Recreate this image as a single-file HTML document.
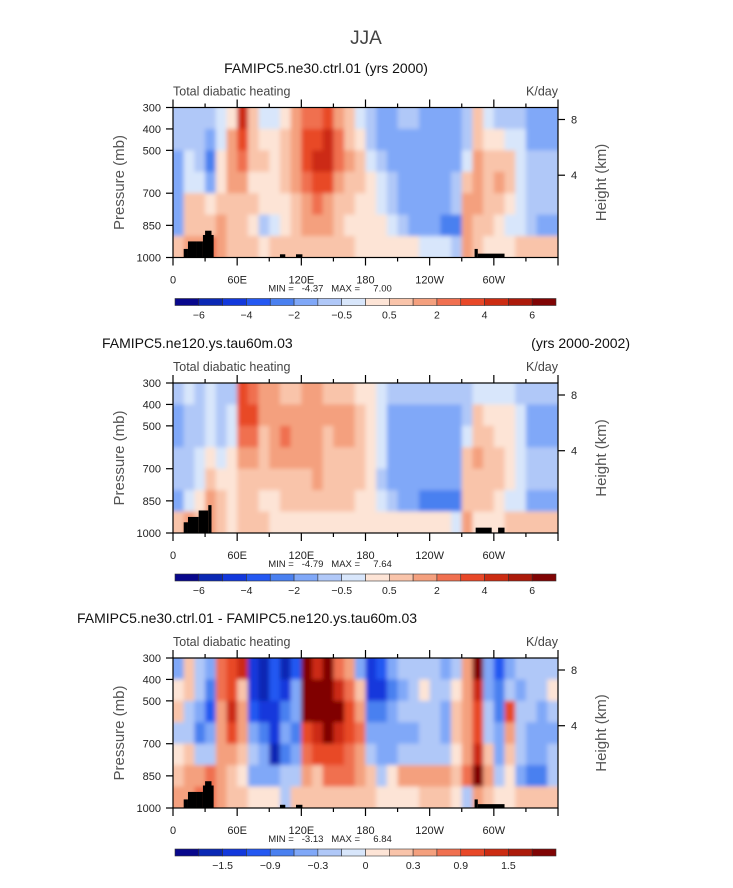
<!DOCTYPE html>
<html><head><meta charset="utf-8">
<style>
body{margin:0;background:#fff;}
svg{display:block;font-family:"Liberation Sans",sans-serif;}
</style></head>
<body>
<svg id="fig" width="733" height="888" viewBox="0 0 733 888">
<defs>
<filter id="smooth" x="0" y="0" width="1" height="1">
<feGaussianBlur stdDeviation="2.2" result="b"/>
<feComponentTransfer><feFuncA type="linear" slope="20" intercept="0"/></feComponentTransfer>
</filter>
</defs>
<text x="366" y="44" text-anchor="middle" font-size="19" fill="#444">JJA</text>
</svg>
<script>
// ---- data ----
const lonEdges = [0,10,20,30,40,50,60,70,80,90,100,110,120,130,140,150,160,170,180,190,200,210,220,230,240,250,260,270,280,290,300,310,320,330,340,350,360];
const presEdges = [300,400,500,600,700,800,900,1000];
const levelsMain = [-6,-5,-4,-3,-2,-1,-0.5,0,0.5,1,2,3,4,5,6];
const levelsDiff = [-1.8,-1.5,-1.2,-0.9,-0.6,-0.3,-0.15,0,0.15,0.3,0.6,0.9,1.2,1.5,1.8];
const labelsMain = ["-6","-4","-2","-0.5","0.5","2","4","6"];
const labelIdxMain = [0,2,4,6,8,10,12,14];
const labelsDiff = ["-1.5","-0.9","-0.3","0","0.3","0.9","1.5"];
const labelIdxDiff = [1,3,5,7,9,11,13];
const palette = ["#08078c","#0a28b4","#1238dc","#2458f2","#4a80f0","#80a8f8","#b0c8f8","#d8e6fb","#fde4d6","#f9c4aa","#f4a07e","#f07050","#e84828","#cc2c12","#ac1a0a","#800404"];
const xTickLons = [0,60,120,180,240,300];
const xTickLabels = ["0","60E","120E","180","120W","60W"];
const pTicks = [300,400,500,700,850,1000];
const hTicks = [8,4];
const hTickPres = [356,616];
// columns (10 deg each), values from 300-400mb down to 900-1000mb
const fieldCtrl = [
[-1,-1,-2,-2,-2,-2,1],[-1,-1,-0.3,-0.3,0.7,0.7,2],[-1,-1,-1,-0.3,0.7,1,2],[-1,-2,-3,-2,0.3,1,3],
[-0.3,-0.3,0.3,0.3,0.7,1.5,1.5],[0.3,1.5,2,1.5,1,0.7,0.7],[5,4,3,2,1,0.7,0.7],[0.7,1,1,0.3,0.7,0.3,0.7],
[-0.3,0.3,0.7,0.3,0.3,-1,0.3],[-0.3,0.3,0.3,0.3,0.3,-0.3,0.7],[0.3,0.7,1,1,0.3,0.3,0.7],[1.5,2,2,1.5,1,0.7,0.7],
[3,4,4,3,2,1.5,0.7],[3,4,5,4,3,1.5,0.7],[4,5,5,4,2,1.5,0.7],[2,3,3,2,1,0.7,0.7],
[0.7,1,1.5,1,0.7,0.3,0.7],[-0.3,0.3,0.7,0.7,0.3,0.3,0.3],[-1,-1,-0.3,0.3,0.3,0.3,0.3],[-2,-2,-1,-0.3,-0.3,0.3,0.3],
[-2,-2,-2,-1,-1,-0.3,0.3],[-1,-2,-2,-2,-2,-1,0.3],[-1,-2,-2,-2,-2,-2,0.3],[-2,-2,-2,-2,-2,-2,-0.3],
[-2,-2,-2,-2,-2,-2,-0.3],[-2,-2,-2,-2,-2,-3,-0.3],[-2,-2,-2,-1,-1,-3,-1],[-1,-1,-0.3,1,2,2,2],
[0.7,1,1.5,2,2,1,0.7],[-0.3,0.3,0.7,1,1,0.7,0.3],[-1,0.3,1,1.5,0.7,0.3,0.3],[-1,-0.3,0.7,0.7,0.3,-0.3,0.3],
[-1,-0.3,-0.3,-0.3,-0.3,-0.3,0.7],[-2,-2,-1,-1,-1,-1,0.7],[-2,-2,-1,-1,-1,-2,0.7],[-2,-2,-1,-1,-1,-2,1]
];
const fieldHiRes = [
[-1,-2,-2,-1,-1,-2,0.7],[-0.3,-1,-1,-1,-1,-0.3,1.5],[-1,-1,-1,-0.3,-0.3,0.3,1],[-0.3,-0.3,-0.3,0.3,0.7,2,2],
[-1,-1,-1,-0.3,0.3,0.7,0.7],[-1,-0.3,-0.3,0.3,0.3,0.3,0.3],[4,4,3,1.5,1,0.7,0.7],[3,4,3,1.5,1,0.7,0.7],
[1.5,2,1,0.7,0.7,0.3,0.7],[1.5,2,2,1.5,1,0.3,0.3],[1,2,3,2,1,0.7,0.3],[1,1.5,1.5,1.5,1,0.7,0.3],
[1.5,2,2,1.5,1,0.7,0.3],[2,2,2,2,1.5,1,0.3],[1,1.5,1,1,0.7,0.7,0.3],[1,1.5,1.5,1,0.7,0.7,0.3],
[1,1.5,1.5,1,1,0.7,0.3],[0.3,0.7,0.7,0.7,0.7,0.3,0.3],[0.3,0.3,0.3,0.3,0.3,0.3,0.3],[-0.3,-0.3,-0.3,-0.3,-1,-0.3,0.3],
[-1,-2,-2,-2,-2,-1,0.3],[-1,-2,-2,-2,-2,-2,0.3],[-1,-2,-2,-2,-2,-2,0.3],[-1,-2,-2,-2,-2,-3,0.3],
[-1,-2,-2,-2,-2,-3,0.3],[-1,-2,-2,-2,-2,-3,0.3],[-1,-2,-2,-2,-2,-3,-0.3],[-1,-1,-0.3,0.7,1,1,1.5],
[-0.3,0.7,1,1.5,1,0.7,0.3],[-0.3,0.3,0.7,1,1,0.7,0.3],[-0.3,0.3,0.3,0.7,0.7,0.3,0.3],[-0.3,0.3,0.3,0.3,0.3,-0.3,0.7],
[-1,-0.3,-0.3,-0.3,-0.3,-0.3,0.7],[-1,-2,-2,-1,-1,-2,0.7],[-1,-2,-2,-1,-1,-2,0.7],[-1,-2,-2,-1,-1,-2,0.7]
];
const fieldDiff = [
[-0.6,0.15,0.3,-0.3,0.15,0.3,0.6],[0.3,0.3,-0.3,-0.3,0.3,0.6,0.6],[-0.3,-0.3,-0.6,-0.9,-0.3,0.6,0.9],[-0.6,-0.9,-1.2,-0.6,-0.3,0.9,0.9],
[0.9,0.9,0.6,0.6,0.6,0.6,0.6],[1.2,1.2,1.5,1.2,0.6,0.3,0.3],[1.5,0.3,0.6,0.6,0.3,0.15,0.3],[-1.5,-1.5,-1.2,-0.6,-0.3,-0.6,0.15],
[-1.8,-1.8,-1.5,-0.9,-0.6,-0.6,0.15],[-1.2,-1.2,-1.5,-1.5,-1.8,-0.6,0.15],[-1.8,-1.5,-0.9,-0.6,-0.9,-0.3,-0.3],[-1.2,-0.6,-0.6,-0.9,-0.6,-0.3,0.3],
[2,2,2,1.2,0.9,0.6,0.3],[1.5,2,2,1.5,1.2,0.3,0.3],[2,2,2,2,1.2,0.9,0.3],[0.9,1.5,2,1.5,1.2,0.9,0.3],
[0.6,0.9,1.2,1.2,0.9,0.9,0.3],[-0.6,0.3,0.6,0.9,0.6,0.6,0.3],[-1.5,-1.5,-0.9,-0.6,-0.3,0.3,0.3],[-1.2,-1.5,-0.9,-0.6,-0.6,-0.3,0.15],
[-0.6,-0.9,-0.6,-0.6,-0.6,0.15,0.15],[-0.3,-0.6,-0.3,-0.6,-0.3,0.6,0.15],[-0.3,-0.3,-0.3,-0.6,-0.3,0.6,0.15],[-0.3,0.15,-0.3,-0.3,-0.3,0.6,0.3],
[-0.3,-0.3,-0.3,-0.3,-0.3,0.6,0.3],[-0.6,-0.3,-0.6,-0.6,-0.3,0.6,0.3],[-0.3,0.15,0.3,0.3,0.15,0.3,0.15],[0.6,0.6,0.6,0.6,0.6,0.9,-0.3],
[2,1.5,1.2,1.2,1.5,2,0.6],[-0.6,-0.6,-0.3,-0.3,0.3,0.6,0.3],[-1.2,-0.9,-0.9,-0.6,-0.6,-0.3,0.15],[-0.6,-0.3,1.2,0.6,0.3,0.15,0.15],
[-0.3,-0.6,-0.3,-0.3,-0.3,-0.6,0.3],[-0.3,-0.3,-0.3,-0.6,-0.6,-0.9,0.3],[-0.3,-0.3,-0.6,-0.6,-0.6,-0.9,0.3],[-0.3,0.15,-0.3,-0.6,-0.3,-0.3,0.3]
];
// terrain blocks: [lonStart, lonEnd, topPressure]
const terrainNe30 = [[10,14,960],[14,22,925],[22,28,925],[28,38,895],[30,36,875],[100,105,985],[115,121,985],[282,285,960],[285,310,982]];
const terrainNe120 = [[10,14,950],[14,24,925],[24,33,895],[33,36,870],[283,298,975],[304,310,975]];

const panels = [
 {name:"ctrl",top:107.5,field:fieldCtrl,levels:levelsMain,terrain:terrainNe30,minmax:"MIN =   -4.37   MAX =     7.00",cbY:298.5,labels:labelsMain,labelIdx:labelIdxMain},
 {name:"hires",top:383,field:fieldHiRes,levels:levelsMain,terrain:terrainNe120,minmax:"MIN =   -4.79   MAX =     7.64",cbY:574,labels:labelsMain,labelIdx:labelIdxMain},
 {name:"diff",top:658,field:fieldDiff,levels:levelsDiff,terrain:terrainNe30,minmax:"MIN =   -3.13   MAX =     6.84",cbY:849,labels:labelsDiff,labelIdx:labelIdxDiff}
];
const X0=173, X1=558, H=150;
const NS="http://www.w3.org/2000/svg";
const fig=document.getElementById('fig');
function mk(tag,attrs,parent){const e=document.createElementNS(NS,tag);for(const k in attrs)e.setAttribute(k,attrs[k]);(parent||fig).appendChild(e);return e;}
function xScale(lon){return X0+lon/360*(X1-X0);}
function classOf(v,lv){let c=0;for(const l of lv){if(v<0?l<=v:l<v)c++;}return c;}

// titles
const titles=[["FAMIPC5.ne30.ctrl.01 (yrs 2000)",326,73,"middle","title-ctrl"],["FAMIPC5.ne120.ys.tau60m.03",102,348,"start","title-hires"],["(yrs 2000-2002)",630,348,"end","years-hires"],["FAMIPC5.ne30.ctrl.01 - FAMIPC5.ne120.ys.tau60m.03",77,623,"start","title-diff"]];
for(const t of titles){
 const e=mk('text',{x:t[1],y:t[2],'text-anchor':t[3],'font-size':14,fill:'#111'});
 e.textContent=t[0];
 
 
}

panels.forEach(p=>{
 const top=p.top, bot=top+H;
 const yScale=pr=>top+(pr-300)/700*H;
 const g=mk('g',{});
 
 
 const cg=mk('g',{filter:'url(#smooth)'},g);
 
 
 p.field.forEach((col,i)=>{
  col.forEach((v,j)=>{
   const x=xScale(lonEdges[i]), x2=xScale(lonEdges[i+1]);
   const y=yScale(presEdges[j]), y2=yScale(presEdges[j+1]);
   const r=mk('rect',{x:x.toFixed(2),y:y.toFixed(2),width:(x2-x+0.4).toFixed(2),height:(y2-y+0.4).toFixed(2),fill:palette[classOf(v,p.levels)]},cg);
   
   
  });
 });
 p.terrain.forEach(t=>{
  const r=mk('rect',{x:xScale(t[0]),y:yScale(t[2]),width:xScale(t[1])-xScale(t[0]),height:bot-yScale(t[2]),fill:'#000'},g);
  
  
 });
 const fr=mk('rect',{x:X0,y:top,width:X1-X0,height:H,fill:'none',stroke:'#000','stroke-width':1.2},g);
 
 
 for(let lon=0;lon<=360;lon+=30){
  const x=xScale(lon), len=lon%60===0?8:4;
  mk('line',{x1:x,x2:x,y1:bot,y2:bot+len,stroke:'#000','stroke-width':1.2},g);
  mk('line',{x1:x,x2:x,y1:top,y2:top-len,stroke:'#000','stroke-width':1.2},g);
 }
 xTickLons.forEach((lon,i)=>{
  const e=mk('text',{x:xScale(lon),y:bot+26,'text-anchor':'middle','font-size':11,fill:'#222'},g);
  e.textContent=xTickLabels[i];
  
  
 });
 pTicks.forEach(pr=>{
  const y=yScale(pr);
  mk('line',{x1:X0-7,x2:X0,y1:y,y2:y,stroke:'#000','stroke-width':1.2},g);
  const e=mk('text',{x:X0-12,y:y+4,'text-anchor':'end','font-size':11,fill:'#222'},g);
  e.textContent=pr;
  
  
 });
 hTicks.forEach((h,i)=>{
  const y=yScale(hTickPres[i]);
  mk('line',{x1:X1,x2:X1+7,y1:y,y2:y,stroke:'#000','stroke-width':1.2},g);
  const e=mk('text',{x:X1+13,y:y+4,'font-size':11,fill:'#222'},g);
  e.textContent=h;
  
  
 });
 const cy=top+H/2;
 let e=mk('text',{x:0,y:0,'text-anchor':'middle','font-size':15,fill:'#555',transform:`translate(124,${cy}) rotate(-90)`},g);
 e.textContent='Pressure (mb)';
 
 
 e=mk('text',{x:0,y:0,'text-anchor':'middle','font-size':15,fill:'#555',transform:`translate(606,${cy}) rotate(-90)`},g);
 e.textContent='Height (km)';
 
 
 e=mk('text',{x:X0,y:top-12,'font-size':12.5,fill:'#444'},g);
 e.textContent='Total diabatic heating';
 
 
 e=mk('text',{x:X1,y:top-12,'text-anchor':'end','font-size':12.5,fill:'#444'},g);
 e.textContent='K/day';
 
 
 e=mk('text',{x:330,y:bot+34,'text-anchor':'middle','font-size':9.5,fill:'#222'},g);
 e.setAttribute('style','white-space:pre');
 e.textContent=p.minmax;
 
 
 const cb=mk('g',{});
 
 
 const cx0=175, cx1=556, w=(cx1-cx0)/palette.length;
 palette.forEach((c,i)=>{
  const r=mk('rect',{x:cx0+i*w,y:p.cbY,width:w,height:7,fill:c,stroke:'#333','stroke-width':0.6},cb);
  
  
 });
 p.labels.forEach((l,i)=>{
  const t=mk('text',{x:cx0+(p.labelIdx[i]+1)*w,y:p.cbY+20,'text-anchor':'middle','font-size':10.5,fill:'#222'},cb);
  t.textContent=l.replace('-','\u2212');
  
  
 });
});
</script>
</body></html>
